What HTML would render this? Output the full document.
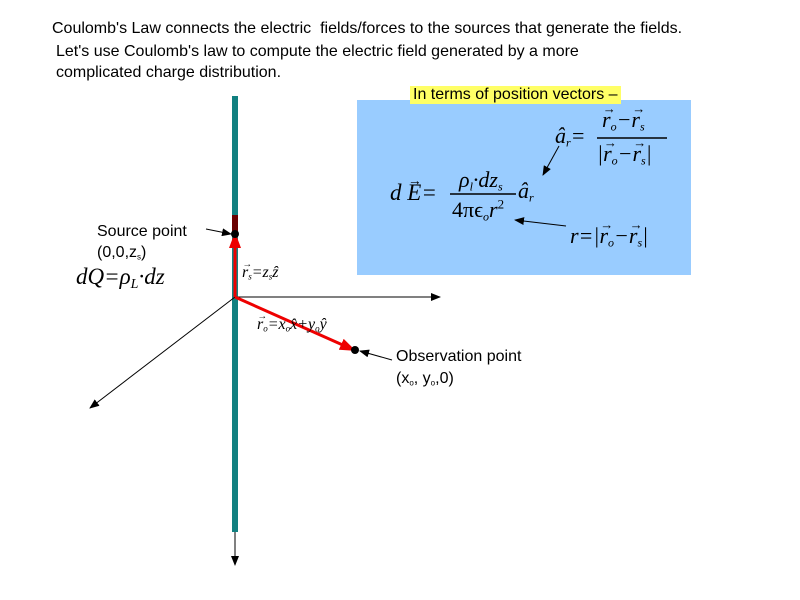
<!DOCTYPE html>
<html><head><style>
body{margin:0;width:800px;height:600px;background:#fff;overflow:hidden;position:relative;font-family:"Liberation Sans",sans-serif}
.t{position:absolute;font-size:16px;color:#000;white-space:nowrap}
.m{position:absolute;font-family:"Liberation Serif",serif;font-style:italic;white-space:nowrap;color:#000;line-height:1}
.v{position:relative;display:inline-block}
.v::after{content:"→";position:absolute;left:0.05em;top:-0.5em;font-size:0.6em;font-style:normal}
sub{line-height:0;vertical-align:-0.3em}
sup{line-height:0}
</style></head><body>
<div class="t" style="left:52px;top:20px">Coulomb's Law connects the electric&nbsp; fields/forces to the sources that generate the fields.</div>
<div class="t" style="left:56px;top:43px">Let's use Coulomb's law to compute the electric field generated by a more</div>
<div class="t" style="left:56px;top:64px">complicated charge distribution.</div>
<div style="position:absolute;left:357px;top:100px;width:334px;height:175px;background:#99ccff"></div>
<div class="t" style="left:410px;top:86px;background:#ffff66;padding:0 3px">In terms of position vectors –</div>
<svg width="800" height="600" style="position:absolute;left:0;top:0">
<defs>
<marker id="a" markerWidth="10" markerHeight="8" refX="9" refY="4" orient="auto" markerUnits="userSpaceOnUse"><path d="M0,0L10,4L0,8z" fill="#000"/></marker>
<marker id="r" markerWidth="16" markerHeight="12" refX="14" refY="6" orient="auto" markerUnits="userSpaceOnUse"><path d="M0,0L16,6L0,12z" fill="#e00"/></marker>
</defs>
<rect x="232" y="96" width="6" height="436" fill="#118080"/>
<rect x="232" y="215" width="6" height="22" fill="#6a0000"/>
<line x1="235" y1="532" x2="235" y2="565" stroke="#000" marker-end="url(#a)"/>
<line x1="235" y1="297" x2="440" y2="297" stroke="#000" marker-end="url(#a)"/>
<line x1="235" y1="297" x2="90" y2="408" stroke="#000" marker-end="url(#a)"/>
<line x1="235" y1="297" x2="235" y2="234" stroke="#e00" stroke-width="3" marker-end="url(#r)"/>
<line x1="235" y1="297" x2="354" y2="350" stroke="#e00" stroke-width="3" marker-end="url(#r)"/>
<circle cx="235" cy="234" r="4" fill="#000"/>
<circle cx="355" cy="350" r="4" fill="#000"/>
<line x1="206" y1="229" x2="231" y2="234" stroke="#000" marker-end="url(#a)"/>
<line x1="392" y1="360" x2="360" y2="351" stroke="#000" marker-end="url(#a)"/>
<line x1="559" y1="146" x2="543" y2="175" stroke="#000" marker-end="url(#a)"/>
<line x1="566" y1="226" x2="515" y2="220" stroke="#000" marker-end="url(#a)"/>
<line x1="450" y1="194" x2="516" y2="194" stroke="#000" stroke-width="1.5"/>
<line x1="597" y1="138" x2="667" y2="138" stroke="#000" stroke-width="1.5"/>
</svg>
<div class="t" style="left:97px;top:223px">Source point</div>
<div class="t" style="left:97px;top:244px">(0,0,z<sub style="font-size:8px">s</sub>)</div>
<div class="m" style="left:76px;top:265px;font-size:23px">dQ=ρ<sub style="font-size:14px">L</sub>·dz</div>
<div class="m" style="left:242px;top:265px;font-size:16px"><span class="v">r</span><sub style="font-size:9px">s</sub>=z<sub style="font-size:9px">s</sub>ẑ</div>
<div class="m" style="left:257px;top:317px;font-size:16px"><span class="v">r</span><sub style="font-size:9px">o</sub>=x<sub style="font-size:9px">o</sub>x̂+y<sub style="font-size:9px">o</sub>ŷ</div>
<div class="t" style="left:396px;top:348px">Observation point</div>
<div class="t" style="left:396px;top:370px">(x<sub style="font-size:8px">o</sub>, y<sub style="font-size:8px">o</sub>,0)</div>
<div class="m" style="left:390px;top:181px;font-size:23px">d <span class="v">E</span>=</div>
<div class="m" style="left:459px;top:169px;font-size:22px">ρ<sub style="font-size:12px">l</sub>·dz<sub style="font-size:12px">s</sub></div>
<div class="m" style="left:452px;top:199px;font-size:22px;font-style:normal">4πϵ<sub style="font-size:12px;font-style:italic">o</sub><i>r</i><sup style="font-size:13px">2</sup></div>
<div class="m" style="left:518px;top:180px;font-size:22px">â<sub style="font-size:12px">r</sub></div>
<div class="m" style="left:555px;top:125px;font-size:22px">â<sub style="font-size:12px">r</sub>=</div>
<div class="m" style="left:602px;top:109px;font-size:22px"><span class="v">r</span><sub style="font-size:12px">o</sub>−<span class="v">r</span><sub style="font-size:12px">s</sub></div>
<div class="m" style="left:597px;top:143px;font-size:22px">|<span class="v">r</span><sub style="font-size:12px">o</sub>−<span class="v">r</span><sub style="font-size:12px">s</sub>|</div>
<div class="m" style="left:570px;top:225px;font-size:22px">r=|<span class="v">r</span><sub style="font-size:12px">o</sub>−<span class="v">r</span><sub style="font-size:12px">s</sub>|</div>
</body></html>
